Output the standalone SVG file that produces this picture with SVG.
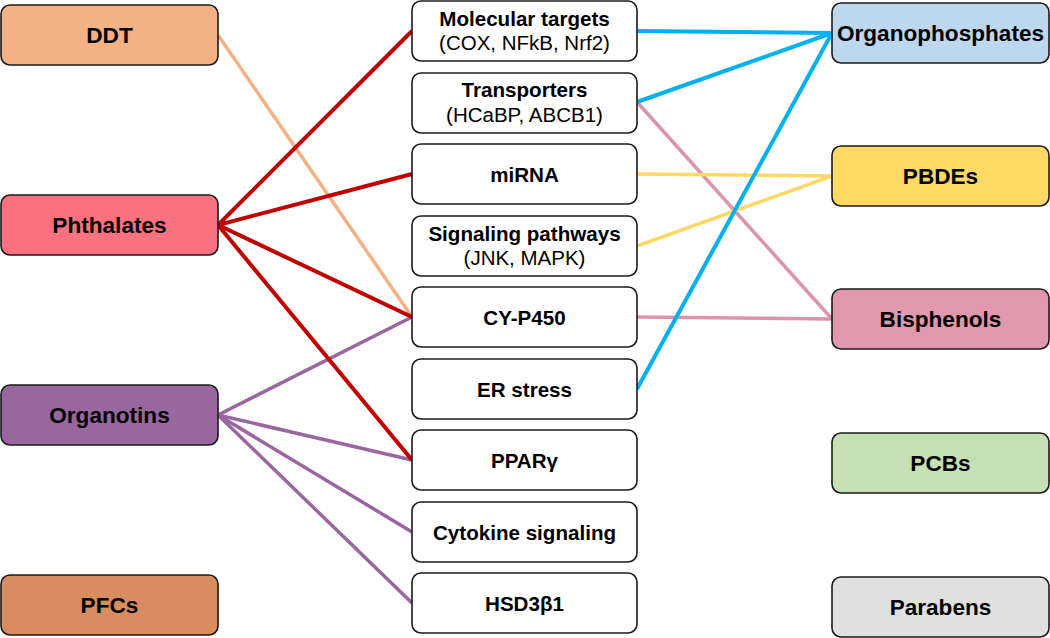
<svg xmlns="http://www.w3.org/2000/svg" width="1050" height="638" viewBox="0 0 1050 638">
<style>
.box{stroke:#1a1a1a;stroke-width:1.6}
.mid{fill:#ffffff}
.t{font-family:"Liberation Sans",Arial,sans-serif;font-weight:bold;fill:#000;text-anchor:middle}
.side{font-size:22.6px}
.m{font-size:20.6px}
.r{font-family:"Liberation Sans",Arial,sans-serif;font-size:20.5px;fill:#000;text-anchor:middle}
.c{fill:none;stroke-linecap:butt}
</style>
<rect width="1050" height="638" fill="#ffffff"/>
<g id="connectors">
<line class="c" x1="218" y1="35" x2="412" y2="317" stroke="#f4b183" stroke-width="3.5"/>
<line class="c" x1="637" y1="102" x2="832" y2="319" stroke="#dc94ac" stroke-width="3.5"/>
<line class="c" x1="637" y1="317" x2="832" y2="319" stroke="#dc94ac" stroke-width="3.5"/>
<line class="c" x1="637" y1="174" x2="832" y2="176" stroke="#ffd966" stroke-width="3.5"/>
<line class="c" x1="637" y1="246" x2="832" y2="176" stroke="#ffd966" stroke-width="3.5"/>
<line class="c" x1="637" y1="31" x2="832" y2="33" stroke="#00b0f0" stroke-width="4"/>
<line class="c" x1="637" y1="102" x2="832" y2="33" stroke="#00b0f0" stroke-width="4"/>
<line class="c" x1="637" y1="389" x2="832" y2="33" stroke="#00b0f0" stroke-width="4"/>
<line class="c" x1="218" y1="415" x2="412" y2="317" stroke="#9966a0" stroke-width="3.5"/>
<line class="c" x1="218" y1="415" x2="412" y2="460" stroke="#9966a0" stroke-width="3.5"/>
<line class="c" x1="218" y1="415" x2="412" y2="532" stroke="#9966a0" stroke-width="3.5"/>
<line class="c" x1="218" y1="415" x2="412" y2="603" stroke="#9966a0" stroke-width="3.5"/>
<line class="c" x1="218" y1="225" x2="412" y2="31" stroke="#c00000" stroke-width="4"/>
<line class="c" x1="218" y1="225" x2="412" y2="174" stroke="#c00000" stroke-width="4"/>
<line class="c" x1="218" y1="225" x2="412" y2="317" stroke="#c00000" stroke-width="4"/>
<line class="c" x1="218" y1="225" x2="412" y2="460" stroke="#c00000" stroke-width="4"/>
</g>
<g id="DDT"><rect class="box" x="1" y="5" width="217" height="60" rx="9" fill="#f4b183"/><text class="t side" x="109.5" y="43">DDT</text></g>
<g id="Phthalates"><rect class="box" x="1" y="195" width="217" height="60" rx="9" fill="#fa717f"/><text class="t side" x="109.5" y="233">Phthalates</text></g>
<g id="Organotins"><rect class="box" x="1" y="385" width="217" height="60" rx="9" fill="#9966a0"/><text class="t side" x="109.5" y="423">Organotins</text></g>
<g id="PFCs"><rect class="box" x="1" y="575" width="217" height="60" rx="9" fill="#d98c60"/><text class="t side" x="109.5" y="613">PFCs</text></g>
<g id="MolecularTargets"><rect class="box mid" x="412" y="1" width="225" height="60" rx="9"/><text class="t m" x="524.5" y="26">Molecular targets</text><text class="r" x="524.5" y="50">(COX, NFkB, Nrf2)</text></g>
<g id="Transporters"><rect class="box mid" x="412" y="73" width="225" height="60" rx="9"/><text class="t m" x="524.5" y="97">Transporters</text><text class="r" x="524.5" y="122">(HCaBP, ABCB1)</text></g>
<g id="miRNA"><rect class="box mid" x="412" y="144" width="225" height="60" rx="9"/><text class="t m" x="524.5" y="181.5">miRNA</text></g>
<g id="SignalingPathways"><rect class="box mid" x="412" y="216" width="225" height="60" rx="9"/><text class="t m" x="524.5" y="240.5">Signaling pathways</text><text class="r" x="524.5" y="265">(JNK, MAPK)</text></g>
<g id="CYP450"><rect class="box mid" x="412" y="287" width="225" height="60" rx="9"/><text class="t m" x="524.5" y="324.5">CY-P450</text></g>
<g id="ERstress"><rect class="box mid" x="412" y="359" width="225" height="60" rx="9"/><text class="t m" x="524.5" y="396.5">ER stress</text></g>
<g id="PPARg"><rect class="box mid" x="412" y="430" width="225" height="60" rx="9"/><text class="t m" x="524.5" y="467.5">PPARγ</text></g>
<g id="Cytokine"><rect class="box mid" x="412" y="502" width="225" height="60" rx="9"/><text class="t m" x="524.5" y="539.5">Cytokine signaling</text></g>
<g id="HSD3b1"><rect class="box mid" x="412" y="573" width="225" height="60" rx="9"/><text class="t m" x="524.5" y="610.5">HSD3β1</text></g>
<g id="Organophosphates"><rect class="box" x="832" y="3" width="217" height="60" rx="9" fill="#bdd7ee"/><text class="t side" x="940.5" y="41">Organophosphates</text></g>
<g id="PBDEs"><rect class="box" x="832" y="146" width="217" height="60" rx="9" fill="#ffd966"/><text class="t side" x="940.5" y="184">PBDEs</text></g>
<g id="Bisphenols"><rect class="box" x="832" y="289" width="217" height="60" rx="9" fill="#e198ae"/><text class="t side" x="940.5" y="327">Bisphenols</text></g>
<g id="PCBs"><rect class="box" x="832" y="433" width="217" height="60" rx="9" fill="#c5e0b4"/><text class="t side" x="940.5" y="471">PCBs</text></g>
<g id="Parabens"><rect class="box" x="832" y="577" width="217" height="60" rx="9" fill="#e0e0e0"/><text class="t side" x="940.5" y="615">Parabens</text></g>
</svg>
